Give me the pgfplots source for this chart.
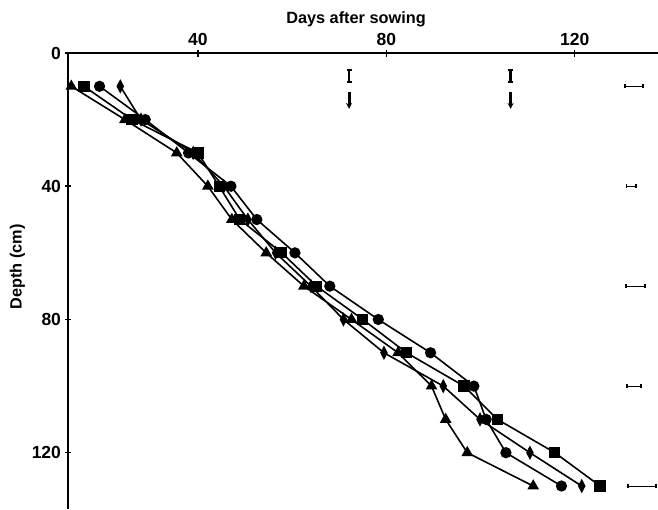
\documentclass[border=0pt]{standalone}
\usepackage{fontspec}
\setmainfont{Liberation Sans}
\usepackage{pgfplots}
\pgfplotsset{compat=1.18}
\usetikzlibrary{arrows.meta}
\begin{document}
\begin{tikzpicture}
\begin{axis}[
  name=ax,
  scale only axis, width=590pt, height=456pt,
  xmin=12.4, xmax=137.7, ymin=0, ymax=136.9,
  y dir=reverse,
  axis x line=top, axis y line=left,
  axis line style={line width=1.8pt, -},
  xtick={40,80,120}, ytick={0,40,80,120},
  tick align=center, major tick length=7pt,
  tick style={line width=1.5pt, black},
  ticklabel style={font=\fontsize{17.5}{19}\selectfont\bfseries},
  /pgf/number format/assume math mode=true,
  clip=false,
  every axis plot/.append style={line width=1.6pt, black},
]
% triangles
\addplot[mark=triangle*, mark size=5.2pt, mark options={solid}] coordinates {
(13.1,10) (24.5,20) (35.5,30) (42.1,40) (47.2,50) (54.5,60) (62.5,70)
(72.6,80) (82.5,90) (89.6,100) (92.6,110) (97.2,120) (111.2,130)};
% squares
\addplot[mark=square*, mark size=4.8pt] coordinates {
(15.8,10) (26.0,20) (40.0,30) (44.5,40) (48.9,50) (57.8,60) (65.2,70)
(75.0,80) (84.3,90) (96.5,100) (103.6,110) (115.8,120) (125.4,130)};
% circles
\addplot[mark=*, mark size=4.8pt] coordinates {
(19.1,10) (28.8,20) (38.0,30) (47.0,40) (52.5,50) (60.6,60) (68.0,70)
(78.3,80) (89.4,90) (98.6,100) (101.2,110) (105.4,120) (117.2,130)};
% diamonds
\addplot[mark=diamond*, mark size=5.5pt, mark options={xscale=0.7}] coordinates {
(23.5,10) (27.9,20) (39.0,30) (45.5,40) (50.6,50) (56.5,60) (64.0,70)
(70.9,80) (79.5,90) (92.1,100) (99.9,110) (110.5,120) (121.5,130)};
% vertical bars near top
\addplot[draw=none, mark=none, error bars/.cd, y dir=both, y explicit,
  error bar style={line width=2.4pt}, error mark options={rotate=90, mark size=2.5pt, line width=1.8pt}] coordinates {
(72.1,6.9) +- (0,1.8) (106.4,6.9) +- (0,1.8)};
% arrows
\addplot[quiver={u=0, v=5.1}, -{Stealth[length=6pt, width=6pt]}, line width=2.8pt, mark=none] coordinates {
(72.1,11.7) (106.4,11.7)};
% right-hand horizontal bars
\addplot[draw=none, mark=none, error bars/.cd, x dir=both, x explicit,
  error bar style={line width=1pt}, error mark options={rotate=90, mark size=2pt, line width=1.4pt}] coordinates {
(132.6,10) +- (1.9,0) (132.0,40) +- (1.05,0) (132.9,70) +- (2.0,0)
(132.6,100) +- (1.5,0) (134.3,130) +- (3.0,0)};
\end{axis}
\node[anchor=base, font=\fontsize{16.3}{18}\selectfont\bfseries] at ([xshift=288pt, yshift=29pt]ax.north west) {Days after sowing};
\node[rotate=90, font=\fontsize{16.3}{18}\selectfont\bfseries] at ([xshift=-50.5pt, yshift=-214pt]ax.north west) {Depth (cm)};
\pgfresetboundingbox
\path[use as bounding box] ([xshift=-68pt]ax.south west) rectangle ([yshift=53pt]ax.north east);
\end{tikzpicture}
\end{document}
